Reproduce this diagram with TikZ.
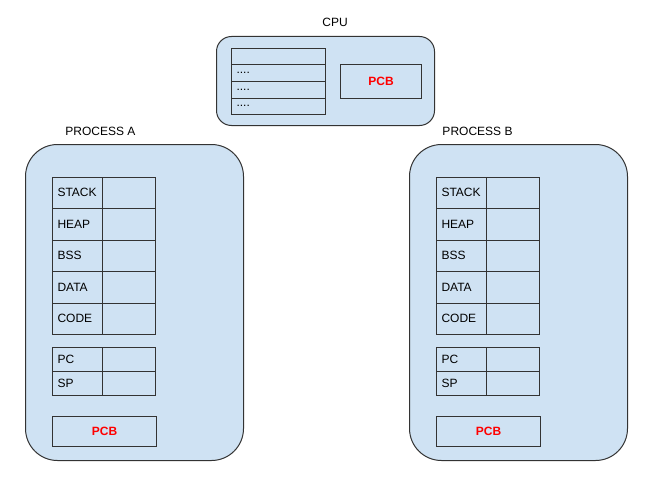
\documentclass[tikz,border=0pt]{standalone}
\usepackage{fontspec}
\setmainfont{Liberation Sans}
\definecolor{boxfill}{HTML}{CFE2F3}
\definecolor{edge}{HTML}{333333}
\definecolor{pcbred}{HTML}{FF0000}
\begin{document}
\begin{tikzpicture}[x=0.75pt,y=-0.75pt,font=\fontsize{9}{11}\selectfont,
  container/.style={draw=edge,fill=boxfill,line width=0.75pt,inner sep=0pt,anchor=north west},
  cell/.style={draw=edge,line width=0.75pt,inner ysep=0pt,inner xsep=3.75pt,anchor=north west,align=left},
  lcell/.style={cell,text width=30pt},
  rcell/.style={cell,text width=32.25pt},
  pcb/.style={draw=edge,line width=0.75pt,inner sep=0pt,anchor=north west,font=\fontsize{9}{11}\selectfont\bfseries,text=pcbred},
  title/.style={inner sep=0pt}]
\useasboundingbox (0,0) rectangle (663,492);

% CPU
\node[container,minimum width=163.5pt,minimum height=66.75pt,rounded corners=11.25pt] (cpu) at (216,36) {};
\node[title] (cpulabel) at (335,22) {CPU};
\node[cell,text width=63pt,minimum height=12.375pt] (c1) at (231,48) {};
\foreach \i in {2,3,4} {
  \node[cell,text width=63pt,minimum height=12.375pt] (c\i) at (231,{48+16.5*(\i-1)}) {....};
}
\node[pcb,minimum width=60.75pt,minimum height=25.5pt] (cpupcb) at (340,64) {PCB};

% Process A and B
\foreach \p/\X/\LX/\L in {a/0/100.5/A,b/384/477.5/B} {
  \node[container,minimum width=163.5pt,minimum height=237pt,rounded corners=24pt] (proc\p) at ({25+\X},144) {};
  \node[title] (label\p) at (\LX,131) {PROCESS \L};
  \foreach \lab [count=\i] in {STACK,HEAP,BSS,DATA,CODE} {
    \node[lcell,minimum height=23.625pt] (\p l\i) at ({52+\X},{176.5+31.5*(\i-1)}) {\lab};
    \node[rcell,minimum height=23.625pt] (\p r\i) at ({102+\X},{176.5+31.5*(\i-1)}) {};
  }
  \foreach \lab [count=\i] in {PC,SP} {
    \node[lcell,minimum height=18pt] (\p reg\i) at ({52+\X},{347+24*(\i-1)}) {\lab};
    \node[rcell,minimum height=18pt] (\p regv\i) at ({102+\X},{347+24*(\i-1)}) {};
  }
  \node[pcb,minimum width=78pt,minimum height=22.5pt] (\p pcb) at ({52+\X},416) {PCB};
}
\end{tikzpicture}
\end{document}
